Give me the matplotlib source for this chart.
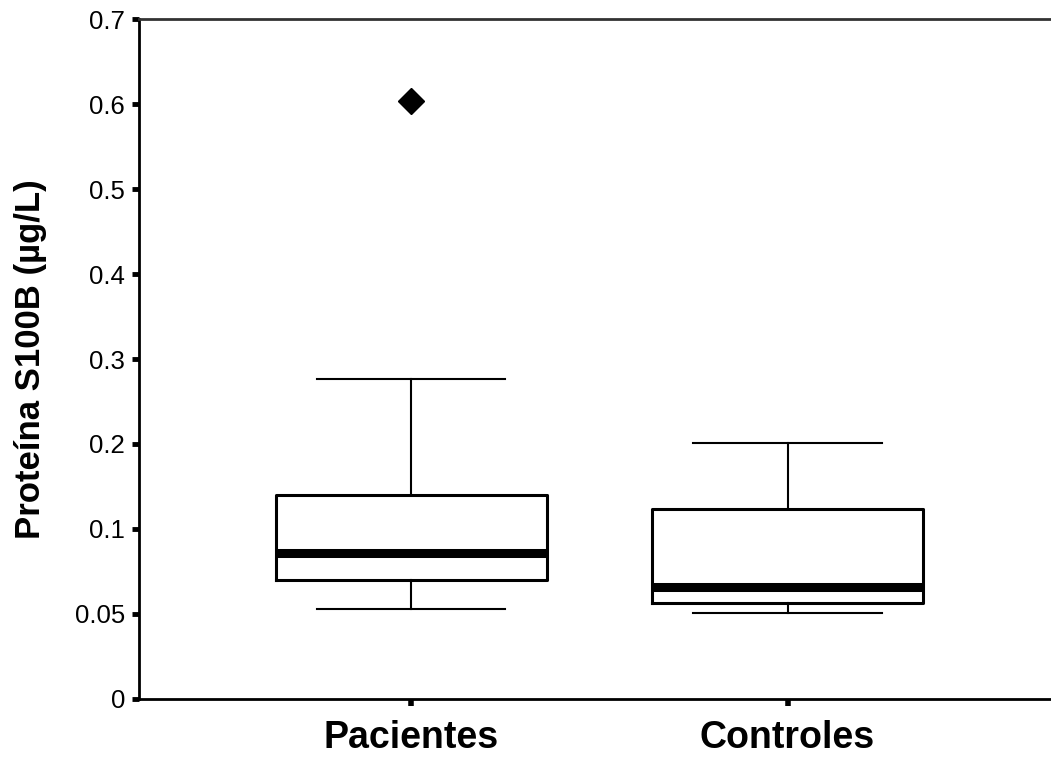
import numpy as np
import matplotlib
matplotlib.use("Agg")
import matplotlib.pyplot as plt

# Datos (µg/L)
grupos = ["Pacientes", "Controles"]
bigote_inf = [0.0528, 0.0508]
q1 = [0.070, 0.0567]
mediana = [0.0857, 0.0657]
q3 = [0.140, 0.1239]
bigote_sup = [0.277, 0.2015]
atipicos = [[0.604], []]

# Eje Y con etiquetas no lineales (espaciado uniforme)
ticks_y = [0, 0.05, 0.1, 0.2, 0.3, 0.4, 0.5, 0.6, 0.7]
ticks_y_lbl = ["0", "0.05", "0.1", "0.2", "0.3", "0.4", "0.5", "0.6", "0.7"]
pos_y = np.arange(len(ticks_y))


def forward(v):
    return np.interp(v, ticks_y, pos_y)


def inverse(p):
    return np.interp(p, pos_y, ticks_y)


plt.rcParams['font.family'] = ['Liberation Sans', 'DejaVu Sans']

fig = plt.figure(figsize=(10.51, 7.64), dpi=100)
ax = fig.add_axes([0.1323, 0.0851, 0.8677, 0.89])

stats = []
for i, g in enumerate(grupos):
    stats.append({
        "label": g,
        "whislo": bigote_inf[i],
        "q1": q1[i],
        "med": mediana[i],
        "q3": q3[i],
        "whishi": bigote_sup[i],
        "fliers": atipicos[i],
    })

ax.set_yscale("function", functions=(forward, inverse))

ax.bxp(stats, positions=[1, 2], widths=0.72, capwidths=0.5,
       boxprops=dict(color="black", linewidth=2.2),
       whiskerprops=dict(color="black", linewidth=1.5),
       capprops=dict(color="black", linewidth=1.5),
       medianprops=dict(color="black", linewidth=6.5),
       flierprops=dict(marker="D", markerfacecolor="black",
                       markeredgecolor="black", markersize=13))

ax.set_xlim(0.277, 2.70)
ax.set_ylim(0, 0.7)
ax.set_yticks(ticks_y)
ax.set_yticklabels(ticks_y_lbl, fontsize=18.5)
ax.yaxis.set_minor_locator(matplotlib.ticker.NullLocator())
ax.set_xticks([1, 2])
ax.set_xticklabels(grupos, fontsize=27, fontweight="bold")
ax.tick_params(axis="y", direction="out", length=5, width=3.5, pad=5)
ax.tick_params(axis="x", direction="out", length=5, width=4, pad=10)

ax.set_ylabel("Proteína S100B (µg/L)", fontsize=25, fontweight="bold", labelpad=20)

for s in ["left", "bottom", "top"]:
    ax.spines[s].set_linewidth(2)
    ax.spines[s].set_color("black")
ax.spines["top"].set_color("#333333")
ax.spines["right"].set_visible(False)

fig.savefig("out.png", dpi=100)
